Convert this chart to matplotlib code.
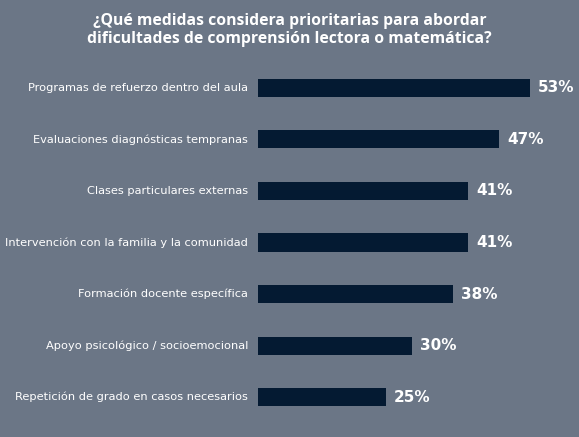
import matplotlib
import matplotlib.pyplot as plt

matplotlib.use("AGG")

categories = [
    "Programas de refuerzo dentro del aula",
    "Evaluaciones diagnósticas tempranas",
    "Clases particulares externas",
    "Intervención con la familia y la comunidad",
    "Formación docente específica",
    "Apoyo psicológico / socioemocional",
    "Repetición de grado en casos necesarios",
]
values = [53, 47, 41, 41, 38, 30, 25]
title = "¿Qué medidas considera prioritarias para abordar\ndificultades de comprensión lectora o matemática?"

BG = "#6b7686"
BAR = "#041a32"

W, H = 579, 437
fig = plt.figure(figsize=(W / 100, H / 100), dpi=100, facecolor=BG)
ax = fig.add_axes([258 / W, 1 - 423 / H, 308 / W, 361 / H])
ax.set_facecolor(BG)

y = list(range(len(categories)))
ax.barh(y, values, height=0.35, color=BAR)
ax.set_xlim(0, 60)
ax.set_ylim(len(categories) - 0.5, -0.5)

for i, (cat, val) in enumerate(zip(categories, values)):
    ax.text(-1.9, i, cat, ha="right", va="center", color="white",
            fontsize=8.2, family="DejaVu Sans")
    ax.text(val + 1.5, i, f"{val}%", ha="left", va="center", color="white",
            fontsize=11, fontweight="bold", family="DejaVu Sans")

ax.axis("off")

fig.text(0.5, 1 - 30 / H, title, ha="center", va="center", color="white",
         fontsize=11.3, fontweight="bold", family="Open Sans", linespacing=1.2)

fig.savefig("out.png", dpi=100, facecolor=BG)
